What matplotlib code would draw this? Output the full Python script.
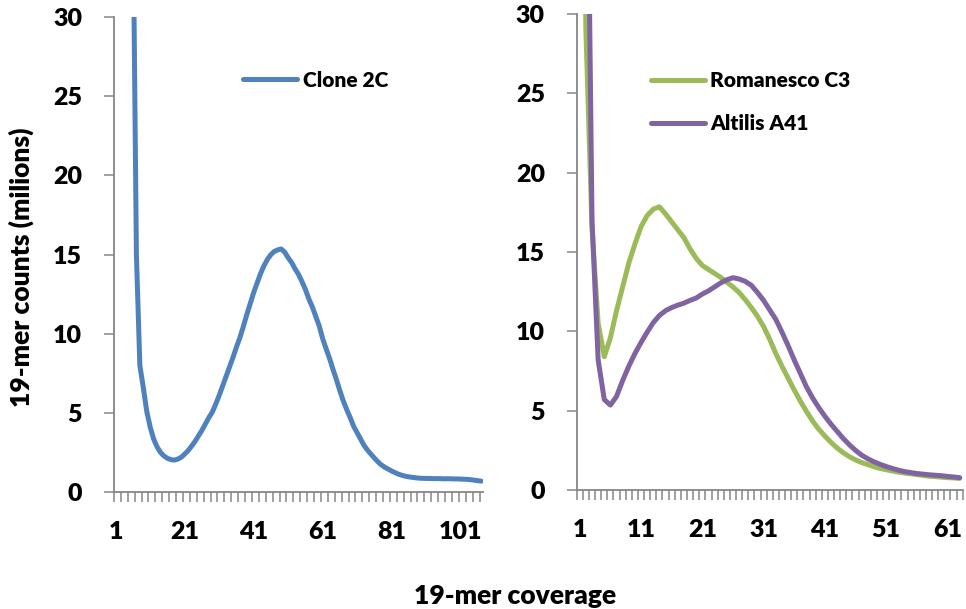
"""
19-mer coverage histograms: clone 2C vs Romanesco C3 / Altilis A41
"""
import numpy as np
import matplotlib
matplotlib.use('Agg')
import matplotlib.pyplot as plt
from matplotlib.ticker import FixedLocator

plt.rcParams['font.family'] = ['Lato', 'DejaVu Sans']
plt.rcParams['font.weight'] = 'heavy'

# 19-mer counts (millions) per coverage value, starting at coverage 1
clone_2c = [
    250, 160, 110, 75, 52, 37, 15, 8.0, 6.6, 5.1,
    4.1, 3.35, 2.85, 2.5, 2.28, 2.13, 2.05, 2.02, 2.08, 2.2,
    2.4, 2.62, 2.9, 3.2, 3.55, 3.9, 4.3, 4.7, 5.05, 5.55,
    6.1, 6.7, 7.3, 7.9, 8.5, 9.15, 9.75, 10.45, 11.2, 11.9,
    12.6, 13.2, 13.8, 14.3, 14.7, 15.0, 15.2, 15.3, 15.35, 15.15,
    14.8, 14.5, 14.1, 13.75, 13.3, 12.8, 12.2, 11.7, 11.1, 10.5,
    9.7, 9.05, 8.45, 7.75, 7.1, 6.4, 5.75, 5.2, 4.7, 4.15,
    3.75, 3.35, 2.95, 2.65, 2.4, 2.15, 1.92, 1.72, 1.57, 1.45,
    1.33, 1.23, 1.13, 1.06, 1.0, 0.96, 0.93, 0.9, 0.88, 0.87,
    0.86, 0.86, 0.85, 0.85, 0.85, 0.84, 0.84, 0.84, 0.83, 0.83,
    0.82, 0.81, 0.8, 0.78, 0.75, 0.72, 0.69,
]
romanesco_c3 = [
    60, 29, 16.5, 10.5, 8.4, 9.6, 11.3, 12.8, 14.3, 15.5,
    16.6, 17.3, 17.7, 17.85, 17.4, 16.9, 16.4, 15.9, 15.2, 14.6,
    14.15, 13.9, 13.65, 13.4, 13.1, 12.8, 12.45, 12.0, 11.5, 10.95,
    10.3, 9.5, 8.6, 7.8, 7.05, 6.3, 5.6, 4.95, 4.35, 3.83,
    3.4, 3.0, 2.65, 2.35, 2.1, 1.9, 1.73, 1.6, 1.47, 1.36,
    1.28, 1.2, 1.13, 1.07, 1.02, 0.97, 0.92, 0.87, 0.84, 0.81,
    0.78, 0.76, 0.73,
]
altilis_a41 = [
    80, 50, 17, 8.2, 5.7, 5.35, 5.9, 6.9, 7.8, 8.6,
    9.3, 9.95, 10.55, 11.0, 11.3, 11.5, 11.65, 11.78, 11.95, 12.1,
    12.35, 12.55, 12.8, 13.05, 13.25, 13.38, 13.3, 13.15, 12.9, 12.45,
    11.95, 11.35, 10.75, 9.95, 9.1, 8.2, 7.35, 6.5, 5.8, 5.2,
    4.65, 4.15, 3.7, 3.25, 2.85, 2.5, 2.2, 1.97, 1.78, 1.62,
    1.48, 1.36, 1.25, 1.16, 1.1, 1.04, 1.0, 0.96, 0.93, 0.9,
    0.86, 0.82, 0.78,
]

left_labels = [1, 21, 41, 61, 81, 101]
right_labels = [1, 11, 21, 31, 41, 51, 61]
y_ticks = [0, 5, 10, 15, 20, 25, 30]

BLUE = '#4F81BD'
GREEN = '#9BBB59'
PURPLE = '#8064A2'
AXIS_GRAY = '#868686'
LW = 3.6


def style_axis(ax, n_cats, label_cats, mark_step):
    """Excel-like category axis: marks between categories, labels on them"""
    ax.set_xlim(0.5, n_cats + 0.5)
    ax.set_ylim(0, 30)
    for side in ('top', 'right'):
        ax.spines[side].set_visible(False)
    for side in ('left', 'bottom'):
        ax.spines[side].set_color(AXIS_GRAY)
        ax.spines[side].set_linewidth(1.3)
    ax.set_yticks(y_ticks)
    ax.set_xticks(label_cats)
    ax.xaxis.set_minor_locator(FixedLocator(np.arange(0.5, n_cats + 0.51, mark_step)))
    ax.tick_params(axis='x', which='major', length=0, pad=21, labelsize=18)
    ax.tick_params(axis='x', which='minor', length=7, width=1.1,
                   color=AXIS_GRAY, direction='out')
    ax.tick_params(axis='y', length=7, width=1.1, color=AXIS_GRAY,
                   direction='out', pad=16, labelsize=18)


def add_legend(ax, anchor, spacing=1.15):
    ax.legend(frameon=False, loc='center left', bbox_to_anchor=anchor,
              borderpad=0, borderaxespad=0, handlelength=2.6,
              handletextpad=0.25, labelspacing=spacing,
              prop={'size': 15, 'weight': 'heavy'})


fig = plt.figure(figsize=(9.66, 6.09), dpi=100)
ax1 = fig.add_axes([0.118, 0.192, 0.382, 0.780])
ax2 = fig.add_axes([0.597, 0.1954, 0.3996, 0.7816])

# clone 2C
x1 = np.arange(1, len(clone_2c) + 1)
ax1.plot(x1, clone_2c, color=BLUE, lw=LW, solid_joinstyle='round',
         solid_capstyle='round', label='Clone 2C')
style_axis(ax1, len(clone_2c), left_labels, 2)
add_legend(ax1, (0.35, 0.867))

# Romanesco vs Altilis
x2 = np.arange(1, len(romanesco_c3) + 1)
ax2.plot(x2, romanesco_c3, color=GREEN, lw=LW, solid_joinstyle='round',
         solid_capstyle='round', label='Romanesco C3')
ax2.plot(x2, altilis_a41, color=PURPLE, lw=LW, solid_joinstyle='round',
         solid_capstyle='round', label='Altilis A41')
style_axis(ax2, len(romanesco_c3), right_labels, 1)
add_legend(ax2, (0.192, 0.815))

fig.text(0.533, 0.021, '19-mer coverage', ha='center', va='center',
         fontsize=19, fontweight='heavy')
fig.text(0.0217, 0.5616, '19-mer counts (milions)', ha='center', va='center',
         rotation=90, fontsize=19, fontweight='heavy')

fig.savefig('out.png', dpi=100)
